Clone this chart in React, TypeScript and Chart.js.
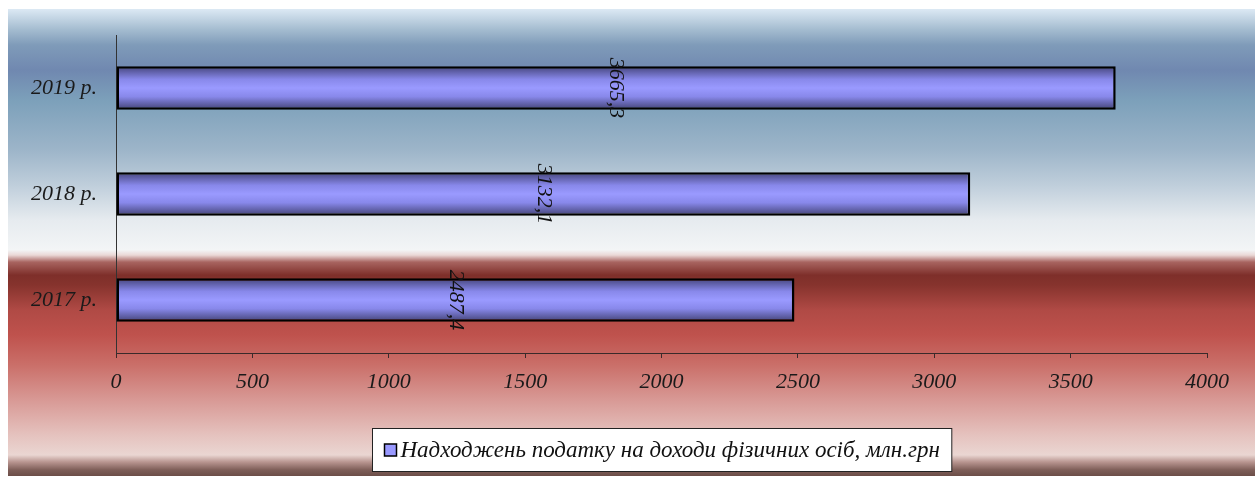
import React, { useEffect, useRef } from "react";
import { Chart, registerables } from "chart.js";

Chart.register(...registerables);

// Years and revenue of personal income tax, mln UAH
const years = ["2017 р.", "2018 р.", "2019 р."];
const revenue = [2487.4, 3132.1, 3665.3];
const seriesLabel = "Надходжень податку на доходи фізичних осіб, млн.грн";
const xTicks = [0, 500, 1000, 1500, 2000, 2500, 3000, 3500, 4000];

const W = 1259;
const H = 477;
const SERIF = "'Liberation Serif', 'Times New Roman', serif";

// Panel background: blue band on top, white break, red band below
const panelStops: [number, string][] = [
  [0.0, "#dce9f4"],
  [0.045, "#a3bbcf"],
  [0.077, "#7f9bb9"],
  [0.131, "#7088b0"],
  [0.195, "#7ca0ba"],
  [0.302, "#9db5c9"],
  [0.377, "#bfcedb"],
  [0.452, "#e6ebef"],
  [0.516, "#f3f5f6"],
  [0.527, "#ead8d6"],
  [0.542, "#a86460"],
  [0.57, "#7e2f2a"],
  [0.591, "#86332d"],
  [0.645, "#b04a45"],
  [0.698, "#bf524d"],
  [0.762, "#ca6f69"],
  [0.837, "#d89995"],
  [0.912, "#e5c2be"],
  [0.955, "#ead6d2"],
  [0.97, "#b89590"],
  [0.987, "#7e5e58"],
  [1.0, "#6c4e48"],
];

const formatValue = (v: number) => v.toFixed(1).replace(".", ",");

const backgroundPlugin = {
  id: "panelBackground",
  beforeDraw(chart: any) {
    const { ctx } = chart;
    ctx.save();
    ctx.fillStyle = "#ffffff";
    ctx.fillRect(0, 0, W, H);
    const top = 9;
    const bottom = 476;
    const g = ctx.createLinearGradient(0, top, 0, bottom);
    panelStops.forEach(([t, c]) => g.addColorStop(t, c));
    ctx.fillStyle = g;
    ctx.fillRect(8, top, 1255 - 8, bottom - top);
    ctx.restore();
  },
};

const valueLabelPlugin = {
  id: "valueLabels",
  afterDatasetsDraw(chart: any) {
    const { ctx } = chart;
    const meta = chart.getDatasetMeta(0);
    ctx.save();
    ctx.font = `italic 22px ${SERIF}`;
    ctx.fillStyle = "#111111";
    ctx.textAlign = "center";
    ctx.textBaseline = "middle";
    meta.data.forEach((bar: any, i: number) => {
      const cx = (bar.base + bar.x) / 2;
      ctx.save();
      ctx.translate(cx, bar.y);
      ctx.rotate(Math.PI / 2);
      ctx.fillText(formatValue(revenue[i]), 0, 0);
      ctx.restore();
    });
    ctx.restore();
  },
};

const legendBoxPlugin = {
  id: "legendBox",
  afterDraw(chart: any) {
    const { ctx } = chart;
    const ds = chart.data.datasets[0];
    ctx.save();
    ctx.font = `italic 23px ${SERIF}`;
    const textW = ctx.measureText(ds.label).width;
    const sq = 12;
    const gap = 4;
    const padX = 12;
    const boxW = padX + sq + gap + textW + padX;
    const boxH = 43;
    const cx = 662;
    const x0 = Math.round(cx - boxW / 2) + 0.5;
    const y0 = 428.5;
    ctx.fillStyle = "#ffffff";
    ctx.fillRect(x0, y0, boxW, boxH);
    ctx.strokeStyle = "#222222";
    ctx.lineWidth = 1;
    ctx.strokeRect(x0, y0, boxW, boxH);
    const midY = y0 + boxH / 2;
    ctx.fillStyle = "#9999ff";
    ctx.fillRect(x0 + padX, midY - sq / 2, sq, sq);
    ctx.strokeStyle = "#000000";
    ctx.lineWidth = 1.5;
    ctx.strokeRect(x0 + padX, midY - sq / 2, sq, sq);
    ctx.fillStyle = "#111111";
    ctx.textAlign = "left";
    ctx.textBaseline = "middle";
    ctx.fillText(ds.label, x0 + padX + sq + gap, midY + 1);
    ctx.restore();
  },
};

export default function App() {
  const canvasRef = useRef<HTMLCanvasElement | null>(null);

  useEffect(() => {
    const canvas = canvasRef.current;
    if (!canvas) return;

    // Vertical shading across each bar: dark edges, light middle
    const barFill = (context: any) => {
      const chart = context.chart;
      const area = chart.chartArea;
      const yScale = chart.scales ? chart.scales.y : undefined;
      if (!area || !yScale || context.dataIndex === undefined) return "#9999ff";
      const cy = yScale.getPixelForValue(context.dataIndex);
      const half = (((area.bottom - area.top) / years.length) * 0.41) / 2;
      const g = chart.ctx.createLinearGradient(0, cy - half, 0, cy + half);
      g.addColorStop(0, "#44447a");
      g.addColorStop(0.3, "#8888ea");
      g.addColorStop(0.5, "#9a9aff");
      g.addColorStop(0.7, "#8888ea");
      g.addColorStop(1, "#424274");
      return g;
    };

    const chart = new Chart(canvas, {
      type: "bar",
      data: {
        labels: years,
        datasets: [
          {
            label: seriesLabel,
            data: revenue,
            backgroundColor: barFill,
            borderColor: "#000000",
            borderWidth: 2.5,
            borderSkipped: false,
            barPercentage: 0.41,
            categoryPercentage: 1,
          },
        ],
      },
      options: {
        indexAxis: "y",
        responsive: false,
        animation: false,
        devicePixelRatio: 1,
        layout: { padding: { top: 35, right: 52, left: 0, bottom: 0 } },
        plugins: {
          legend: { display: false },
          tooltip: { enabled: false },
        },
        scales: {
          x: {
            type: "linear",
            min: 0,
            max: 4000,
            afterBuildTicks: (scale: any) => {
              scale.ticks = xTicks.map((v) => ({ value: v }));
            },
            afterFit: (scale: any) => {
              scale.height = H - 353;
            },
            grid: {
              display: true,
              drawOnChartArea: false,
              drawTicks: true,
              tickLength: 5,
              color: "#3a2a2a",
            },
            border: { display: true, color: "#3a2a2a", width: 1 },
            ticks: {
              padding: 11,
              color: "#1a1a1a",
              font: { family: SERIF, size: 22, style: "italic" },
              callback: (value: any) => String(value),
            },
          },
          y: {
            reverse: true,
            afterFit: (scale: any) => {
              scale.width = 116;
            },
            grid: { display: false, drawTicks: false },
            border: { display: true, color: "#333333", width: 1 },
            ticks: {
              padding: 19,
              color: "#1a1a1a",
              font: { family: SERIF, size: 22, style: "italic" },
            },
          },
        },
      },
      plugins: [backgroundPlugin, valueLabelPlugin, legendBoxPlugin],
    });

    return () => chart.destroy();
  }, []);

  return (
    <div style={{ position: "absolute", left: 0, top: 0, width: W, height: H }}>
      <canvas ref={canvasRef} width={W} height={H} style={{ display: "block" }} />
    </div>
  );
}
